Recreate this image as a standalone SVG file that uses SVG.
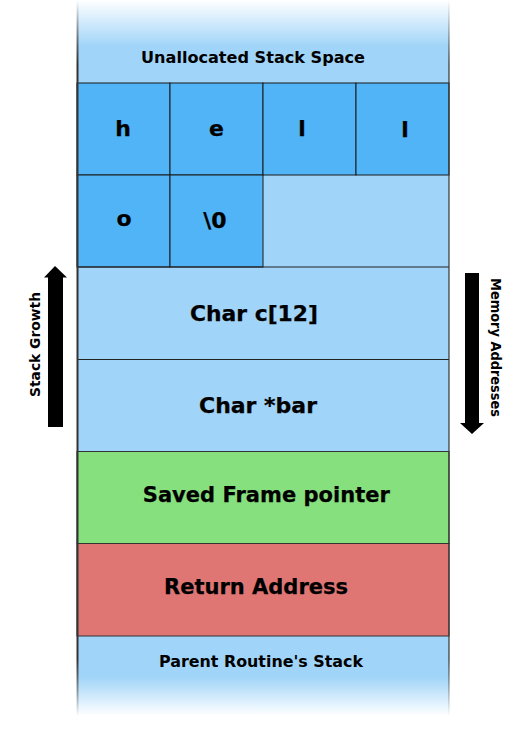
<svg xmlns="http://www.w3.org/2000/svg" width="522" height="746" viewBox="0 0 522 746">
<style>
text{font-family:"DejaVu Sans","Verdana",sans-serif;font-weight:bold;fill:#000;text-anchor:middle}
.big{font-size:21px;stroke:#000;stroke-width:0.25}
.ltr{font-size:22px;stroke:#000;stroke-width:0.25}
.sm{font-size:16px}
.side{font-size:13.5px}
.cell{fill:#50B4F6;stroke:#1a1a1a;stroke-width:1}
.row{stroke:#222;stroke-width:1}
</style>
<defs>
<linearGradient id="bg" gradientUnits="userSpaceOnUse" x1="0" y1="0" x2="0" y2="716">
<stop offset="0" stop-color="#A0D4F8" stop-opacity="0"/>
<stop offset="0.065" stop-color="#A0D4F8" stop-opacity="1"/>
<stop offset="0.945" stop-color="#A0D4F8" stop-opacity="1"/>
<stop offset="1" stop-color="#A0D4F8" stop-opacity="0"/>
</linearGradient>
<linearGradient id="edge" gradientUnits="userSpaceOnUse" x1="0" y1="0" x2="0" y2="716">
<stop offset="0" stop-color="#333" stop-opacity="0"/>
<stop offset="0.09" stop-color="#333" stop-opacity="1"/>
<stop offset="0.92" stop-color="#333" stop-opacity="1"/>
<stop offset="1" stop-color="#333" stop-opacity="0"/>
</linearGradient>
</defs>
<rect width="522" height="746" fill="#fff"/>
<g id="column">
<rect x="77" y="0" width="372" height="716" fill="url(#bg)"/>
</g>
<g id="unallocated">
<text class="sm" x="253" y="63" textLength="224" lengthAdjust="spacingAndGlyphs">Unallocated Stack Space</text>
</g>
<g id="cells">
<rect class="cell" x="77" y="83" width="93" height="92"/>
<rect class="cell" x="170" y="83" width="93" height="92"/>
<rect class="cell" x="263" y="83" width="93" height="92"/>
<rect class="cell" x="356" y="83" width="93" height="92"/>
<rect class="cell" x="77" y="175" width="93" height="92"/>
<rect class="cell" x="170" y="175" width="93" height="92"/>
<text class="ltr" x="123" y="136">h</text>
<text class="ltr" x="216.5" y="136">e</text>
<text class="ltr" x="302" y="136">l</text>
<text class="ltr" x="405" y="137">l</text>
<text class="ltr" x="124" y="226">o</text>
<text class="ltr" x="215" y="228">\0</text>
</g>
<g id="char-c">
<line class="row" x1="77" y1="267" x2="449" y2="267"/>
<text class="big" x="254" y="320.5" textLength="128" lengthAdjust="spacingAndGlyphs">Char c[12]</text>
</g>
<g id="char-bar">
<line class="row" x1="77" y1="359.5" x2="449" y2="359.5"/>
<text class="big" x="258" y="412.5" textLength="118" lengthAdjust="spacingAndGlyphs">Char *bar</text>
</g>
<g id="saved-fp">
<rect x="77" y="451.5" width="372" height="92" fill="#86E07D" stroke="#333" stroke-width="1"/>
<text class="big" x="266.3" y="502" textLength="247" lengthAdjust="spacingAndGlyphs">Saved Frame pointer</text>
</g>
<g id="return-address">
<rect x="77" y="543.5" width="372" height="92.5" fill="#E07674" stroke="#333" stroke-width="1"/>
<text class="big" x="256" y="594" textLength="184" lengthAdjust="spacingAndGlyphs">Return Address</text>
</g>
<g id="parent">
<text class="sm" x="261" y="667" textLength="204" lengthAdjust="spacingAndGlyphs">Parent Routine's Stack</text>
</g>
<g id="edges">
<line x1="77.5" y1="0" x2="77.5" y2="716" stroke="url(#edge)" stroke-width="2"/>
<line x1="449" y1="0" x2="449" y2="716" stroke="url(#edge)" stroke-width="1.2"/>
</g>
<g id="connectors">
<polygon points="55,266 67,277.5 63,277.5 63,427 48,427 48,277.5 44,277.5" fill="#000"/>
<polygon points="465,273 479,273 479,423 484,423 472,434 460,423 465,423" fill="#000"/>
</g>
<g id="labels">
<text class="side" transform="translate(40,344.5) rotate(-90)" textLength="105" lengthAdjust="spacingAndGlyphs">Stack Growth</text>
<text class="side" transform="translate(490.5,347.5) rotate(90)" textLength="139" lengthAdjust="spacingAndGlyphs">Memory Addresses</text>
</g>
</svg>
